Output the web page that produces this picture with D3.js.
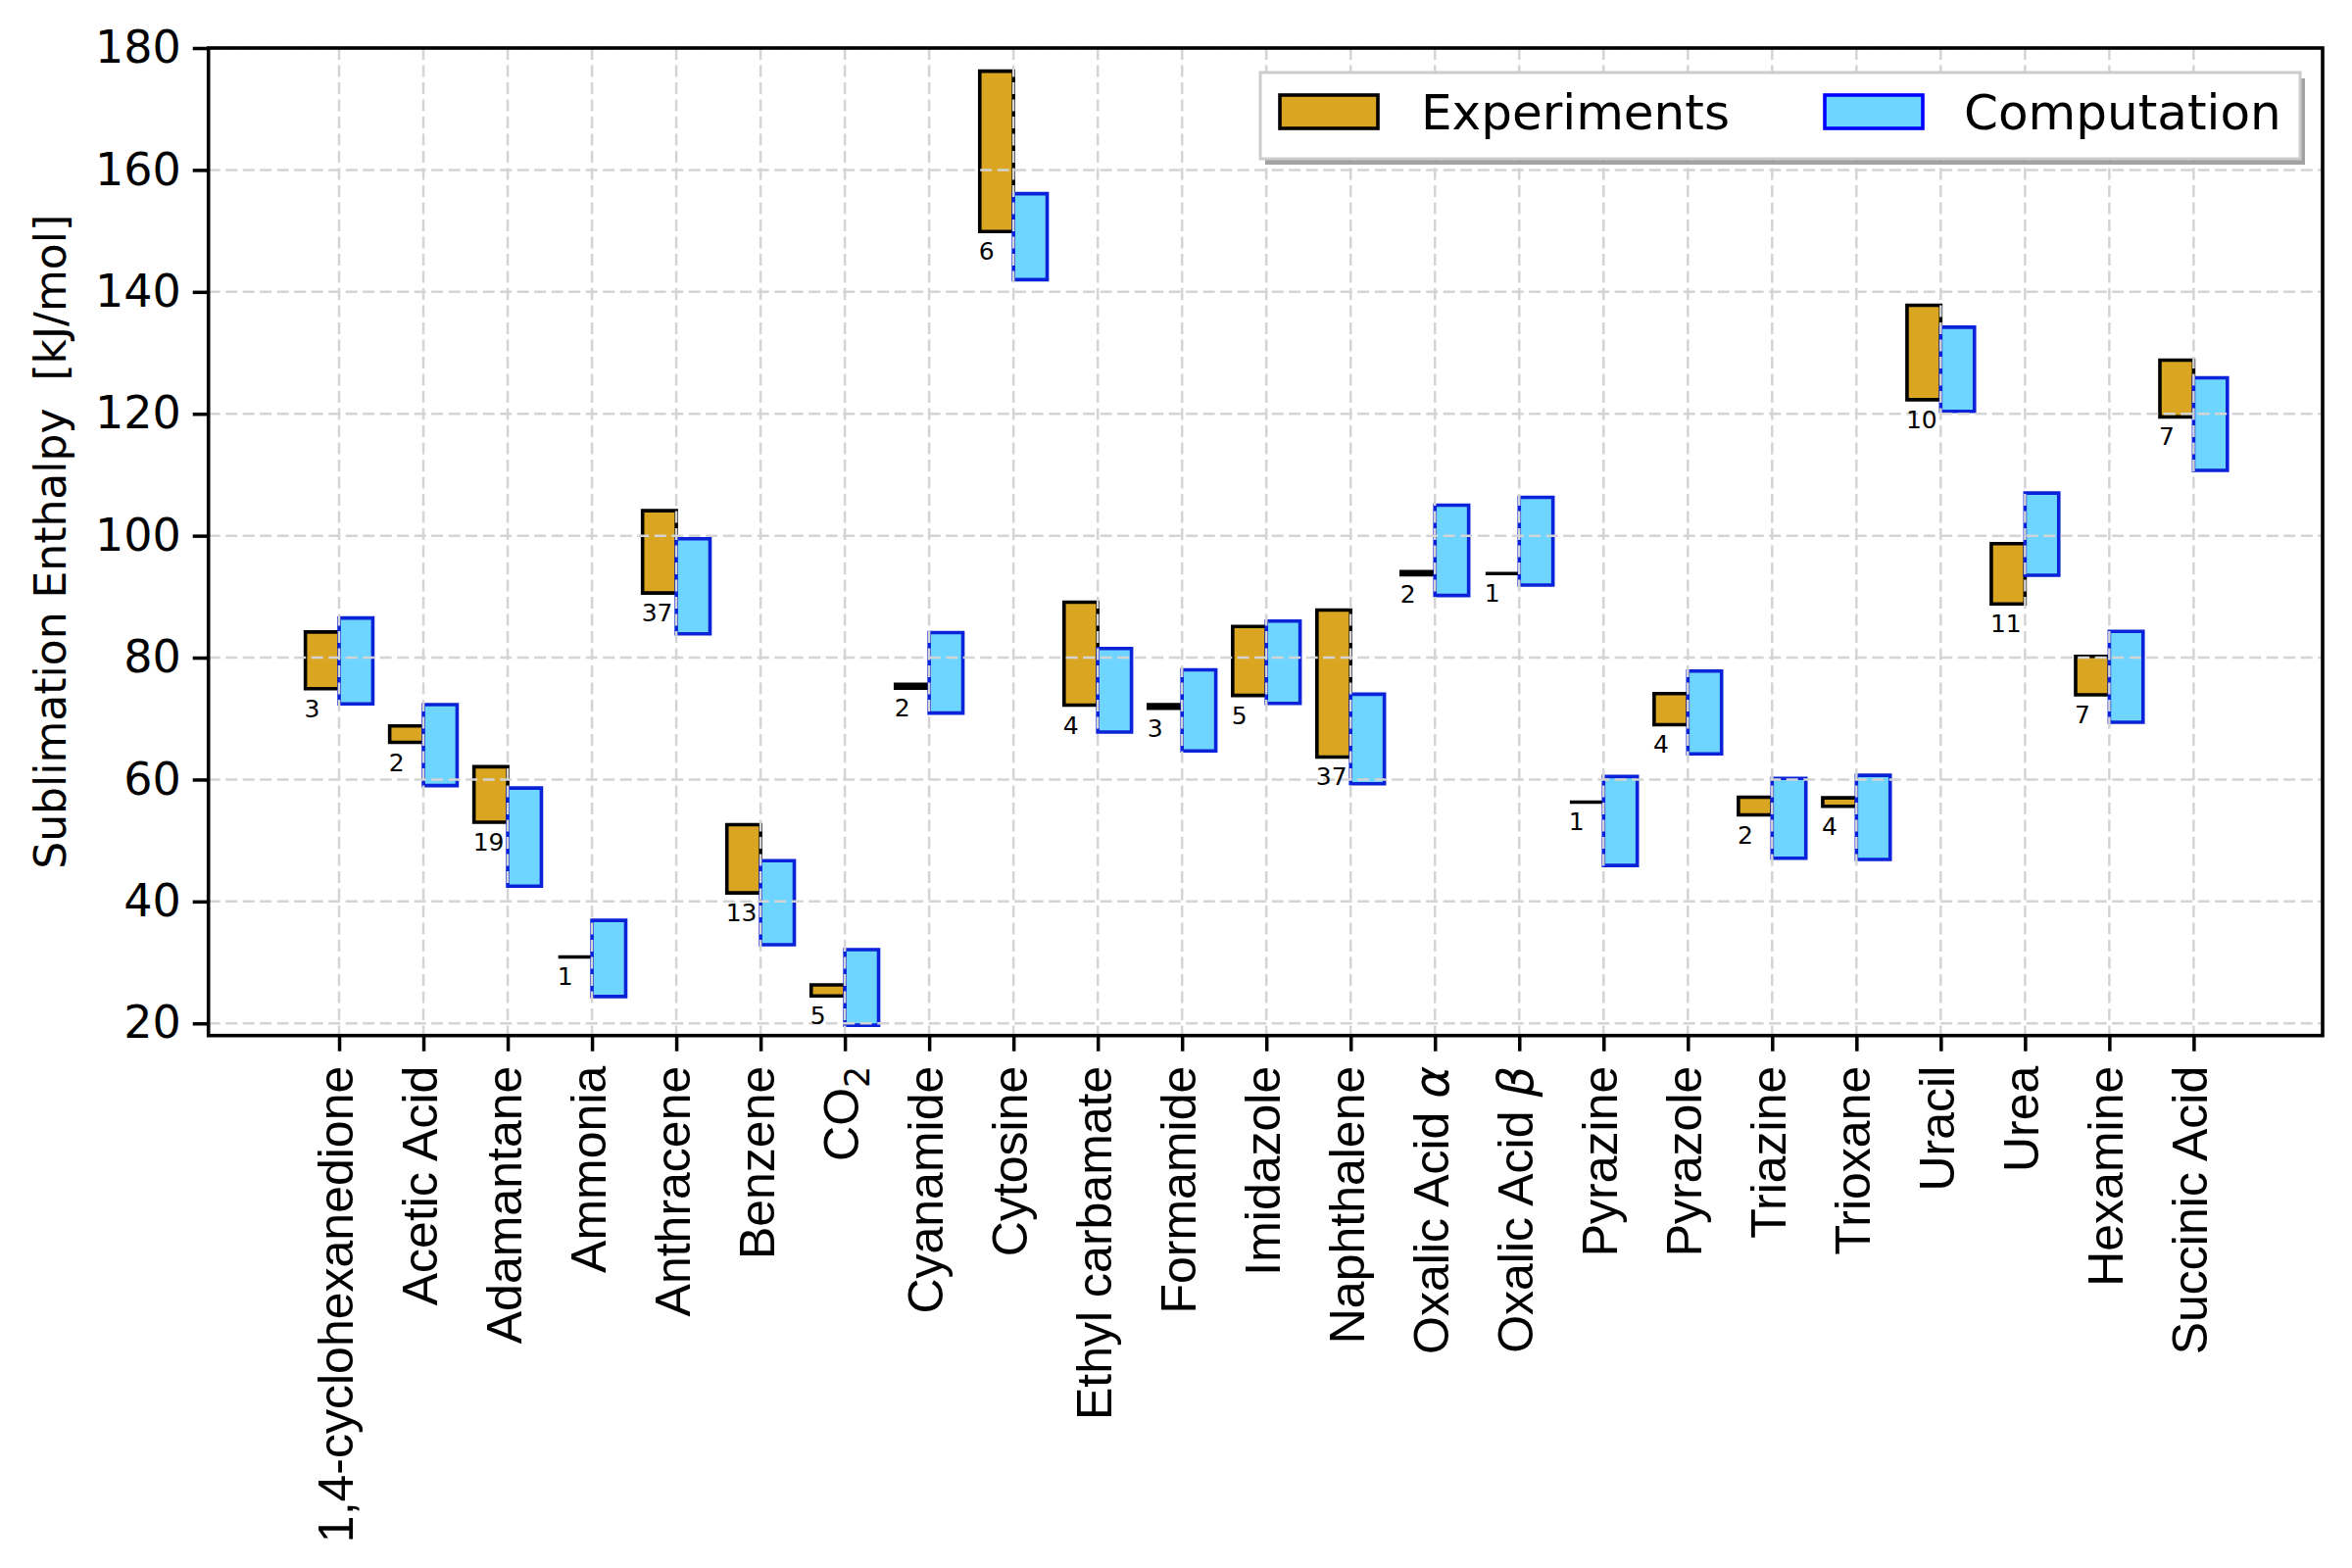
<!DOCTYPE html>
<html>
<head>
<meta charset="utf-8">
<script src="https://cdn.jsdelivr.net/npm/d3@7"></script>
<style>
  html, body { margin: 0; padding: 0; background: #fff; }
  svg { display: block; }
</style>
</head>
<body>
<div id="chart"></div>
<script>
// sublimation enthalpy ranges: experiments vs computation

const molecules = ['1,4-cyclohexanedione', 'Acetic Acid', 'Adamantane', 'Ammonia', 'Anthracene',
    'Benzene', 'CO2', 'Cyanamide', 'Cytosine', 'Ethyl carbamate', 'Formamide', 'Imidazole',
    'Naphthalene', 'Oxalic Acid α', 'Oxalic Acid β', 'Pyrazine', 'Pyrazole', 'Triazine',
    'Trioxane', 'Uracil', 'Urea', 'Hexamine', 'Succinic Acid'];

const expLow  = [74.9, 66.1, 53.0, 30.9, 90.6, 41.4, 24.5, 75.0, 149.9, 72.2, 71.7, 73.8,
    63.7, 93.6, 93.8, 56.3, 69.0, 54.2, 55.6, 122.3, 88.8, 73.9, 119.5];
const expHigh = [84.2, 68.8, 62.1, 30.9, 104.1, 52.6, 26.3, 75.6, 176.2, 89.1, 72.3, 85.1,
    87.8, 94.1, 93.8, 56.3, 74.1, 57.1, 57.0, 137.8, 98.7, 80.2, 128.8];

const compLow  = [72.4, 59.0, 42.5, 24.4, 83.9, 32.9, 19.7, 70.9, 142.0, 67.8, 64.7, 72.5,
    59.3, 90.2, 91.9, 45.9, 64.2, 47.1, 46.9, 120.4, 93.5, 69.4, 110.7];
const compHigh = [86.5, 72.3, 58.6, 36.9, 99.5, 46.7, 32.1, 84.1, 156.1, 81.5, 78.0, 86.0,
    74.0, 105.0, 106.3, 60.5, 77.8, 60.2, 60.7, 134.2, 107.0, 84.3, 125.9];

// number of experimental measurements
const expCounts = [3, 2, 19, 1, 37, 13, 5, 2, 6, 4, 3, 5, 37, 2, 1, 1, 4, 2, 4, 10, 11, 7, 7];

const yTicks = [20, 40, 60, 80, 100, 120, 140, 160, 180];
const seriesNames = ['Experiments', 'Computation'];

const width = 2400, height = 1600;
const plot = { left: 212.7, right: 2370, top: 49, bottom: 1056.7 };
const barW = 0.4;

const colors = {
    expFill: '#DAA520', expEdge: '#000000',
    compFill: '#6DD5FF', compEdge: '#0A22D8', legendCompEdge: '#0000FF',
    grid: '#d4d4d4'
};

const svg = d3.select('#chart')
    .append('svg')
    .attr('width', width)
    .attr('height', height)
    .style('background', '#fff');

const x = d3.scaleLinear()
    .domain([-1.55, molecules.length - 1 + 1.53])
    .range([plot.left, plot.right]);

const y = d3.scaleLinear()
    .domain([18, 180])
    .range([plot.bottom, plot.top]);

function barPath(x0, x1, lo, hi) {
    // path instead of rect so zero-height bars still show their edge
    return `M${x(x0)},${y(hi)}H${x(x1)}V${y(lo)}H${x(x0)}Z`;
}

// experiment bars (left of tick)
svg.append('g')
    .selectAll('path')
    .data(molecules)
    .enter()
    .append('path')
    .attr('d', (d, i) => barPath(i - barW, i, expLow[i], expHigh[i]))
    .attr('fill', colors.expFill)
    .attr('stroke', colors.expEdge)
    .attr('stroke-width', 3.6);

// computation bars (right of tick)
svg.append('g')
    .selectAll('path')
    .data(molecules)
    .enter()
    .append('path')
    .attr('d', (d, i) => barPath(i, i + barW, compLow[i], compHigh[i]))
    .attr('fill', colors.compFill)
    .attr('stroke', colors.compEdge)
    .attr('stroke-width', 3.6);

// grid sits on top of the bars, like matplotlib's default
const grid = svg.append('g')
    .attr('stroke', colors.grid)
    .attr('stroke-width', 2.5)
    .attr('stroke-dasharray', '12,5.5');

grid.selectAll('.vgrid')
    .data(d3.range(molecules.length))
    .enter()
    .append('line')
    .attr('x1', d => x(d)).attr('x2', d => x(d))
    .attr('y1', plot.top).attr('y2', plot.bottom);

grid.selectAll('.hgrid')
    .data(yTicks)
    .enter()
    .append('line')
    .attr('x1', plot.left).attr('x2', plot.right)
    .attr('y1', d => y(d)).attr('y2', d => y(d));

// measurement counts under the experiment bars
svg.append('g')
    .selectAll('text')
    .data(expCounts)
    .enter()
    .append('text')
    .attr('x', (d, i) => x(i - barW) - 1)
    .attr('y', (d, i) => y(expLow[i]) + 29)
    .attr('font-family', 'DejaVu Sans')
    .attr('font-size', '25px')
    .attr('fill', '#000')
    .text(d => d);

// axes
const xAxis = d3.axisBottom(x)
    .tickValues(d3.range(molecules.length))
    .tickSize(16)
    .tickFormat('');

const xg = svg.append('g')
    .attr('transform', `translate(0, ${plot.bottom})`)
    .call(xAxis);
xg.select('.domain').remove();
xg.selectAll('.tick line').attr('stroke', '#000').attr('stroke-width', 3.5);

xg.selectAll('.tick')
    .append('text')
    .attr('transform', 'translate(0, 31) rotate(-90)')
    .attr('text-anchor', 'end')
    .attr('dy', '0.27em')
    .attr('font-family', 'Liberation Sans, Arial, sans-serif')
    .attr('font-size', '50px')
    .attr('fill', '#000')
    .each(function (d) {
        const t = d3.select(this);
        const name = molecules[d];
        if (name === 'CO2') {
            t.append('tspan').text('CO');
            t.append('tspan')
                .attr('font-family', 'DejaVu Sans')
                .attr('font-size', '35px')
                .attr('dy', '0.3em')
                .text('2');
        } else if (name.endsWith('α') || name.endsWith('β')) {
            t.append('tspan').text(name.slice(0, -1));
            t.append('tspan')
                .attr('font-family', 'DejaVu Sans')
                .attr('font-style', 'italic')
                .text(name.slice(-1));
        } else {
            t.text(name);
        }
    });

const yAxis = d3.axisLeft(y)
    .tickValues(yTicks)
    .tickSize(16)
    .tickPadding(12);

const yg = svg.append('g')
    .attr('transform', `translate(${plot.left}, 0)`)
    .call(yAxis);
yg.select('.domain').remove();
yg.selectAll('.tick line').attr('stroke', '#000').attr('stroke-width', 3.5);
yg.selectAll('.tick text')
    .attr('font-family', 'DejaVu Sans')
    .attr('font-size', '46px')
    .attr('fill', '#000');

// axes frame
svg.append('rect')
    .attr('x', plot.left)
    .attr('y', plot.top)
    .attr('width', plot.right - plot.left)
    .attr('height', plot.bottom - plot.top)
    .attr('fill', 'none')
    .attr('stroke', '#000')
    .attr('stroke-width', 3.6);

// y label
svg.append('text')
    .attr('transform', `translate(67, ${(plot.top + plot.bottom) / 2}) rotate(-90)`)
    .attr('text-anchor', 'middle')
    .attr('font-family', 'DejaVu Sans')
    .attr('font-size', '44px')
    .attr('fill', '#000')
    .style('white-space', 'pre')
    .text('Sublimation Enthalpy  [kJ/mol]');

// legend with shadow
const legend = { x: 1286, y: 74, w: 1061, h: 88 };
const lg = svg.append('g');

lg.append('rect')
    .attr('x', legend.x + 5).attr('y', legend.y + 6)
    .attr('width', legend.w).attr('height', legend.h)
    .attr('fill', '#8c8c8c')
    .attr('opacity', 0.8);

lg.append('rect')
    .attr('x', legend.x).attr('y', legend.y)
    .attr('width', legend.w).attr('height', legend.h)
    .attr('fill', '#fff')
    .attr('stroke', '#cccccc')
    .attr('stroke-width', 3);

const legendItems = [
    { name: seriesNames[0], fill: colors.expFill, edge: colors.expEdge, hx: 1306, tx: 1450 },
    { name: seriesNames[1], fill: colors.compFill, edge: colors.legendCompEdge, hx: 1862, tx: 2004 }
];

const items = lg.selectAll('.legend-item')
    .data(legendItems)
    .enter()
    .append('g')
    .attr('class', 'legend-item');

items.append('rect')
    .attr('x', d => d.hx)
    .attr('y', 97)
    .attr('width', 100)
    .attr('height', 34)
    .attr('fill', d => d.fill)
    .attr('stroke', d => d.edge)
    .attr('stroke-width', 3.6);

items.append('text')
    .attr('x', d => d.tx)
    .attr('y', 132)
    .attr('font-family', 'DejaVu Sans')
    .attr('font-size', '50px')
    .attr('fill', '#000')
    .text(d => d.name);
</script>
</body>
</html>
